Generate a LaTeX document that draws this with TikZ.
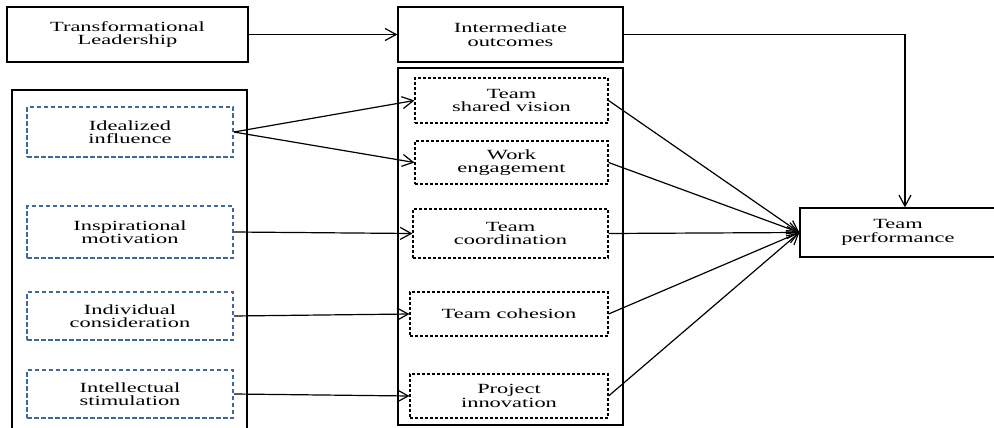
\documentclass[tikz,border=0pt]{standalone}
\usepackage{fontspec}
\setmainfont[FakeStretch=1.6]{Liberation Serif}
\usetikzlibrary{arrows.meta}
\definecolor{dblue}{RGB}{60,105,160}
\begin{document}
\begin{tikzpicture}[x=1pt,y=-1pt,
  every node/.style={font=\fontsize{14}{13.5}\selectfont, align=center, inner sep=0pt},
  solidbox/.style={draw, line width=1.3pt},
  bluebox/.style={draw=dblue, line width=1.7pt, dash pattern=on 4.5pt off 2.5pt},
  blackbox/.style={draw, line width=1.1pt, dash pattern=on 3pt off 2pt},
  arr/.style={line width=1.2pt, -{Straight Barb[length=11pt,width=12pt,line width=1.2pt]}}
]
\useasboundingbox (0,0) rectangle (994,428);
% top row
\node[solidbox, minimum width=241pt, minimum height=55pt] (tl) at (127.5,34.5) {Transformational\\Leadership};
\node[solidbox, minimum width=225pt, minimum height=55pt] (io) at (510.5,34.5) {Intermediate\\outcomes};
% big containers
\draw[line width=1.3pt] (12,430) -- (12,90) -- (247,90) -- (247,430);
\draw[line width=1.3pt] (398,68) rectangle (623,425);
% left dashed boxes
\node[bluebox, minimum width=206pt, minimum height=50pt] (ii) at (130,132) {Idealized\\influence};
\node[bluebox, minimum width=206pt, minimum height=52pt] (im) at (130,232) {Inspirational\\motivation};
\node[bluebox, minimum width=206pt, minimum height=48pt] (ic) at (130,316) {Individual\\consideration};
\node[bluebox, minimum width=206pt, minimum height=48pt] (is) at (130,394) {Intellectual\\stimulation};
% middle dashed boxes
\node[blackbox, minimum width=193pt, minimum height=45pt] (tsv) at (511.5,100.5) {Team\\shared vision};
\node[blackbox, minimum width=193pt, minimum height=43pt] (we) at (511.5,162.5) {Work\\engagement};
\node[blackbox, minimum width=195pt, minimum height=49pt] (tc) at (510.5,233.5) {Team\\coordination};
\node[blackbox, minimum width=198pt, minimum height=44pt] (tco) at (509,314) {Team cohesion};
\node[blackbox, minimum width=198pt, minimum height=44pt] (pi) at (509,396) {Project\\innovation};
% outcome
\node[solidbox, minimum width=196pt, minimum height=49pt] (tp) at (898,232.5) {Team\\performance};
% connectors
\draw[arr] (tl.east) -- (io.west);
\coordinate (corner) at (905,34.5);
\draw[arr] (io.east) -- (corner) -- (corner |- tp.north);
\draw[arr] (ii.east) -- (tsv.west);
\draw[arr] (ii.east) -- (we.west);
\draw[arr] (im.east) -- (tc.west);
\draw[arr] (ic.east) -- (tco.west);
\draw[arr] (is.east) -- (pi.west);
\draw[arr] (tsv.east) -- (tp.west);
\draw[arr] (we.east) -- (tp.west);
\draw[arr] (tc.east) -- (tp.west);
\draw[arr] (tco.east) -- (tp.west);
\draw[arr] (pi.east) -- (tp.west);
\end{tikzpicture}
\end{document}
